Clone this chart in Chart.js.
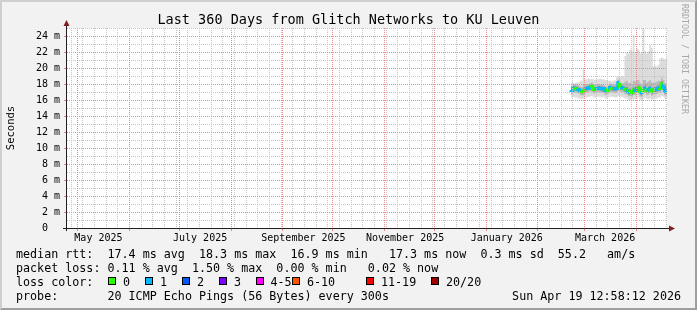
<!DOCTYPE html>
<html>
<head>
<meta charset="utf-8">
<script src="https://cdn.jsdelivr.net/npm/chart.js@4.4.1/dist/chart.umd.min.js"></script>
<style>
html,body{margin:0;padding:0;background:#f2f2f2;}
#wrap{position:relative;width:697px;height:310px;overflow:hidden;background:#f2f2f2;font-family:"DejaVu Sans Mono",monospace;color:#000;}
#c{position:absolute;left:0;top:0;}
#frame{position:absolute;left:0;top:0;width:697px;height:310px;box-sizing:border-box;border-top:2px solid #cfcfcf;border-left:2px solid #cfcfcf;border-bottom:2px solid #9e9e9e;border-right:2px solid #9e9e9e;pointer-events:none;}
.t{position:absolute;white-space:pre;}
#title{left:0;top:11px;width:697px;text-align:center;font-size:13.5px;line-height:16px;}
#ylab{left:-40px;top:122px;width:100px;text-align:center;font-size:10.5px;line-height:12px;transform:rotate(-90deg);}
#wm{left:680px;top:4px;font-size:8.3px;line-height:10px;writing-mode:vertical-rl;color:#a8a8a8;}
.lg{font-size:11.7px;line-height:14px;}
.sw{position:absolute;top:277px;width:6px;height:6px;border:1px solid #000;}
</style>
</head>
<body>
<div id="wrap">
  <canvas id="c" width="697" height="310"></canvas>
  <div class="t" id="title"></div>
  <div class="t" id="ylab"></div>
  <div class="t" id="wm"></div>
  <div id="legend"></div>
  <div id="frame"></div>
</div>
<script>
// ---------- text ----------
const titleText = 'Last 360 Days from Glitch Networks to KU Leuven';
const yAxisTitle = 'Seconds';
const watermark = 'RRDTOOL / TOBI OETIKER';
const legendRtt = 'median rtt:  17.4 ms avg  18.3 ms max  16.9 ms min   17.3 ms now  0.3 ms sd  55.2   am/s';
const legendLoss = 'packet loss: 0.11 % avg  1.50 % max  0.00 % min   0.02 % now';
const legendLossColor = 'loss color:';
const legendProbe = 'probe:       20 ICMP Echo Pings (56 Bytes) every 300s';
const legendDate = 'Sun Apr 19 12:58:12 2026';
const lossLabels = ['0', '1', '2', '3', '4-5', '6-10', '11-19', '20/20'];
const lossColors = ['#26ff00', '#00b8ff', '#0059ff', '#7e00ff', '#ff00ff', '#ff5500', '#ff0000', '#a10000'];

// ---------- axis ticks ----------
const yTickValues = [0, 2, 4, 6, 8, 10, 12, 14, 16, 18, 20, 22, 24];
const yTickLabels = ['0  ', '2 m', '4 m', '6 m', '8 m', '10 m', '12 m', '14 m', '16 m', '18 m', '20 m', '22 m', '24 m'];
const yMinorValues = [1, 3, 5, 7, 9, 11, 13, 15, 17, 19, 21, 23, 25];
const xLabelMonths = ['2025-05-01', '2025-07-01', '2025-09-01', '2025-11-01', '2026-01-01', '2026-03-01'];
const xLabelTexts = ['May 2025', 'July 2025', 'September 2025', 'November 2025', 'January 2026', 'March 2026'];

// ---------- data (one value per day, ms) ----------
const dates = ['2026-02-21','2026-02-22','2026-02-23','2026-02-24','2026-02-25','2026-02-26','2026-02-27','2026-02-28',
  '2026-03-01','2026-03-02','2026-03-03','2026-03-04','2026-03-05','2026-03-06','2026-03-07','2026-03-08','2026-03-09','2026-03-10',
  '2026-03-11','2026-03-12','2026-03-13','2026-03-14','2026-03-15','2026-03-16','2026-03-17','2026-03-18','2026-03-19','2026-03-20',
  '2026-03-21','2026-03-22','2026-03-23','2026-03-24','2026-03-25','2026-03-26','2026-03-27','2026-03-28','2026-03-29','2026-03-30',
  '2026-03-31','2026-04-01','2026-04-02','2026-04-03','2026-04-04','2026-04-05','2026-04-06','2026-04-07','2026-04-08','2026-04-09',
  '2026-04-10','2026-04-11','2026-04-12','2026-04-13','2026-04-14','2026-04-15','2026-04-16','2026-04-17','2026-04-18','2026-04-19'];
const median = [17.25,17.2,17.5,17.45,17.4,17.3,17.15,17.05,17.1,17.3,17.45,17.5,17.6,17.7,17.3,17.35,17.45,17.5,17.45,17.4,
  17.45,17.15,17.2,17.3,17.55,17.45,17.45,17.4,17.45,18.15,17.6,17.55,17.5,17.3,17.35,17.0,17.05,16.9,17.25,17.2,
  17.45,17.5,17.05,16.9,17.3,17.5,17.2,17.25,17.45,17.1,17.3,17.3,17.35,17.5,17.45,18.0,17.6,17.1];
const lossIdx = [1,1,0,0,1,1,0,0,0,1,1,1,0,0,0,1,1,1,1,1,
  1,0,0,1,0,1,1,1,1,0,1,1,0,0,1,0,0,0,1,1,
  0,0,1,0,1,0,1,1,0,0,1,1,1,0,0,1,1,1];
const smokeMax = [18.1,18.15,18.1,18.1,18.2,18.2,18.3,18.4,19.8,18.6,18.6,18.7,18.6,18.65,18.6,18.5,18.6,18.6,18.7,18.6,
  18.6,18.5,18.5,18.4,18.4,18.3,18.4,18.45,18.9,19.0,18.9,19.0,18.9,21.5,21.9,21.8,22.3,22.1,24.1,21.9,
  22.4,22.3,21.8,22.0,24.9,22.1,21.8,22.1,22.9,22.5,20.2,20.3,20.2,20.4,21.2,21.3,21.2,21.1];
const smokeMin = [16.3,16.3,16.4,16.3,16.3,16.2,16.2,16.1,16.2,16.3,16.3,16.4,16.4,16.5,16.3,16.3,16.4,16.4,16.4,16.3,
  16.4,16.2,16.2,16.3,16.4,16.4,16.4,16.3,16.3,16.5,16.4,16.4,16.3,16.2,16.2,16.0,16.0,15.9,16.1,16.1,
  16.2,16.3,16.0,15.9,16.1,16.3,16.1,16.1,16.2,16.0,16.1,16.2,16.2,16.3,16.3,16.5,16.4,16.1];
const midHi = [17.75,17.75,18.0,17.95,17.9,17.85,17.7,17.6,17.9,17.85,18.0,18.0,18.1,18.2,17.85,17.9,17.95,18.0,17.95,17.9,
  17.95,17.7,17.7,17.8,18.05,17.95,17.95,17.9,18.0,18.6,18.2,18.1,18.1,18.3,18.4,18.1,18.2,18.0,18.4,18.3,
  18.5,18.5,18.1,18.0,18.5,18.5,18.2,18.3,18.5,18.2,18.2,18.2,18.3,18.4,18.4,18.8,18.5,18.1];
const midLo = [16.75,16.7,16.95,16.9,16.85,16.8,16.65,16.55,16.6,16.8,16.9,16.95,17.05,17.1,16.8,16.85,16.9,16.95,16.9,16.85,
  16.9,16.6,16.65,16.8,17.0,16.9,16.9,16.85,16.9,17.4,17.0,17.0,16.95,16.7,16.75,16.45,16.5,16.35,16.65,16.6,
  16.85,16.9,16.45,16.35,16.7,16.9,16.6,16.65,16.85,16.5,16.7,16.7,16.75,16.9,16.85,17.3,17.0,16.55];
const darkHi = [17.5,17.45,17.75,17.7,17.65,17.55,17.4,17.3,17.4,17.55,17.7,17.75,17.85,17.95,17.55,17.6,17.7,17.75,17.7,17.65,
  17.7,17.4,17.45,17.55,17.8,17.7,17.7,17.65,17.7,18.4,17.85,17.8,17.75,17.6,17.65,17.3,17.4,17.2,17.55,17.5,
  17.75,17.8,17.35,17.2,17.6,17.8,17.5,17.55,17.75,17.4,17.6,17.6,17.65,17.8,17.75,18.3,17.9,17.4];
const darkLo = [17.0,16.95,17.25,17.2,17.15,17.05,16.9,16.8,16.85,17.05,17.2,17.25,17.35,17.45,17.05,17.1,17.2,17.25,17.2,17.15,
  17.2,16.9,16.95,17.05,17.3,17.2,17.2,17.15,17.2,17.9,17.35,17.3,17.25,17.0,17.05,16.7,16.75,16.6,16.95,16.9,
  17.15,17.2,16.75,16.6,17.0,17.2,16.9,16.95,17.15,16.8,17.0,17.0,17.05,17.2,17.15,17.7,17.3,16.8];

// ---------- time mapping ----------
const START = Date.UTC(2025, 3, 24, 12, 58, 12);
const END = Date.UTC(2026, 3, 19, 12, 58, 12);
const DAY = 86400000;
const toDay = s => (Date.parse(s + 'T00:00:00Z') - START) / DAY;
const SPAN = (END - START) / DAY;

function series(arr) {
  const pts = dates.map((d, i) => ({x: toDay(d), y: arr[i]}));
  pts.push({x: SPAN, y: arr[arr.length - 1]});
  return pts;
}

// grid tick positions (in days since start)
const monthTicks = [];
for (let k = 0; k < 13; k++) {
  const v = (Date.UTC(2025, 4 + k, 1) - START) / DAY;
  if (v >= 0 && v <= SPAN) monthTicks.push(v);
}
const weekTicks = [];
for (let t = Date.UTC(2025, 3, 27); t <= END; t += 7 * DAY) weekTicks.push((t - START) / DAY);
const labelTicks = xLabelMonths.map(s => toDay(s) + 12.4);

// ---------- html text ----------
document.getElementById('title').textContent = titleText;
document.getElementById('ylab').textContent = yAxisTitle;
document.getElementById('wm').textContent = watermark;
const lg = document.getElementById('legend');
function addText(txt, left, top, extra) {
  const d = document.createElement('div');
  d.className = 't lg';
  d.textContent = txt;
  d.style.left = left + 'px';
  d.style.top = top + 'px';
  if (extra) Object.assign(d.style, extra);
  lg.appendChild(d);
}
addText(legendRtt, 16, 247);
addText(legendLoss, 16, 261);
addText(legendLossColor, 16, 275);
addText(legendProbe, 16, 289);
addText(legendDate, 0, 289, {left: 'auto', right: '16px'});
const swatchX = [108, 145, 182, 219, 255.5, 292, 366, 431];
lossLabels.forEach((lab, i) => {
  const s = document.createElement('div');
  s.className = 'sw';
  s.style.left = swatchX[i] + 'px';
  s.style.background = lossColors[i];
  lg.appendChild(s);
  addText(lab, swatchX[i] + 15, 275);
});

// ---------- chart ----------
const GRID = '#c4c4c4';
const MGRID = '#e88a8a';
const FONT = {family: 'DejaVu Sans Mono', size: 10};
const noPad = s => { s.paddingTop = 0; s.paddingBottom = 0; s.paddingLeft = 0; s.paddingRight = 0; };

const bgPlugin = {
  id: 'plotbg',
  beforeDraw(chart) {
    const {ctx, chartArea: a} = chart;
    ctx.save();
    ctx.fillStyle = '#ffffff';
    ctx.fillRect(a.left, a.top, a.right - a.left, a.bottom - a.top);
    ctx.restore();
  }
};

// dotted rrdtool-style grid, positioned through the chart's own scales
const gridPlugin = {
  id: 'rrdgrid',
  afterDatasetsDraw(chart) {
    const {ctx, chartArea: a} = chart;
    const sx = chart.scales.x, sy = chart.scales.y;
    const colV = v => Math.floor(sx.getPixelForValue(v));
    const rowH = v => Math.round(sy.getPixelForValue(v));
    const dotsV = (px, color) => {
      ctx.fillStyle = color;
      for (let yy = a.top; yy < a.bottom; yy += 2) ctx.fillRect(px, yy, 1, 1);
    };
    const dotsH = (py, color) => {
      ctx.fillStyle = color;
      for (let xx = a.left; xx < a.right; xx += 2) ctx.fillRect(xx, py, 1, 1);
    };
    ctx.save();
    weekTicks.forEach(v => { const px = colV(v); if (px >= a.left && px < a.right) dotsV(px, GRID); });
    yMinorValues.forEach(v => { const py = rowH(v); if (py >= a.top && py < a.bottom) dotsH(py, GRID); });
    monthTicks.forEach(v => {
      const px = colV(v);
      if (px >= a.left && px < a.right) { dotsV(px, MGRID); ctx.fillRect(px, a.bottom + 1, 1, 2); }
    });
    yTickValues.forEach(v => {
      const py = rowH(v);
      if (py >= a.top && py < a.bottom) { dotsH(py, MGRID); ctx.fillRect(a.left - 3, py, 2, 1); }
    });
    ctx.restore();
  }
};

const axesPlugin = {
  id: 'rrdaxes',
  afterDraw(chart) {
    const {ctx, chartArea: a} = chart;
    const yb = a.bottom + 0.5, xl = a.left - 0.5;
    ctx.save();
    ctx.strokeStyle = '#1f1f1f';
    ctx.lineWidth = 1;
    ctx.beginPath();
    ctx.moveTo(a.left - 4, yb); ctx.lineTo(a.right + 3, yb);
    ctx.moveTo(xl, a.bottom + 3); ctx.lineTo(xl, a.top - 3);
    ctx.stroke();
    ctx.fillStyle = '#801f1f';
    ctx.beginPath();
    ctx.moveTo(a.right + 2, yb - 3); ctx.lineTo(a.right + 8, yb); ctx.lineTo(a.right + 2, yb + 3); ctx.closePath();
    ctx.fill();
    ctx.beginPath();
    ctx.moveTo(xl - 3, a.top - 2); ctx.lineTo(xl, a.top - 8); ctx.lineTo(xl + 3, a.top - 2); ctx.closePath();
    ctx.fill();
    ctx.restore();
  }
};

function band(data, color, fill) {
  return {
    type: 'line', data: series(data), stepped: 'after', borderWidth: 0, pointRadius: 0,
    borderColor: 'rgba(0,0,0,0)', backgroundColor: color, fill: fill, xAxisID: 'x', yAxisID: 'y'
  };
}

new Chart(document.getElementById('c'), {
  type: 'line',
  data: {
    datasets: [
      {
        type: 'line', data: series(median), stepped: 'after', borderWidth: 3, pointRadius: 0, fill: false,
        borderColor: lossColors[1], xAxisID: 'x', yAxisID: 'y',
        segment: {borderColor: ctx => lossColors[lossIdx[Math.min(ctx.p0DataIndex, lossIdx.length - 1)]]}
      },
      band(darkHi, '#8a8a8a', '+1'),
      band(darkLo, 'rgba(0,0,0,0)', false),
      band(midHi, '#bababa', '+1'),
      band(midLo, 'rgba(0,0,0,0)', false),
      band(smokeMax, '#dcdcdc', '+1'),
      band(smokeMin, 'rgba(0,0,0,0)', false)
    ]
  },
  options: {
    responsive: false,
    animation: false,
    devicePixelRatio: 1,
    layout: {padding: {left: 0, top: 28, right: 30, bottom: 0}},
    plugins: {legend: {display: false}, title: {display: false}, tooltip: {enabled: false}},
    scales: {
      x: {
        type: 'linear', position: 'bottom', min: 0, max: SPAN,
        afterBuildTicks: s => { s.ticks = labelTicks.map(v => ({value: v})); },
        ticks: {display: true, autoSkip: false, maxRotation: 0, minRotation: 0, padding: 4, color: '#000', font: FONT,
                callback: (v, i) => xLabelTexts[i]},
        grid: {display: false, drawTicks: false},
        border: {display: false},
        afterFit: s => { s.height = 82; noPad(s); }
      },
      y: {
        type: 'linear', position: 'left', min: 0, max: 25,
        afterBuildTicks: s => { s.ticks = yTickValues.map(v => ({value: v})); },
        ticks: {color: '#000', font: FONT, padding: 7, autoSkip: false, callback: (v, i) => yTickLabels[i]},
        grid: {display: false, drawTicks: false},
        border: {display: false},
        afterFit: s => { s.width = 67; noPad(s); }
      }
    }
  },
  plugins: [bgPlugin, gridPlugin, axesPlugin]
});
</script>
</body>
</html>
